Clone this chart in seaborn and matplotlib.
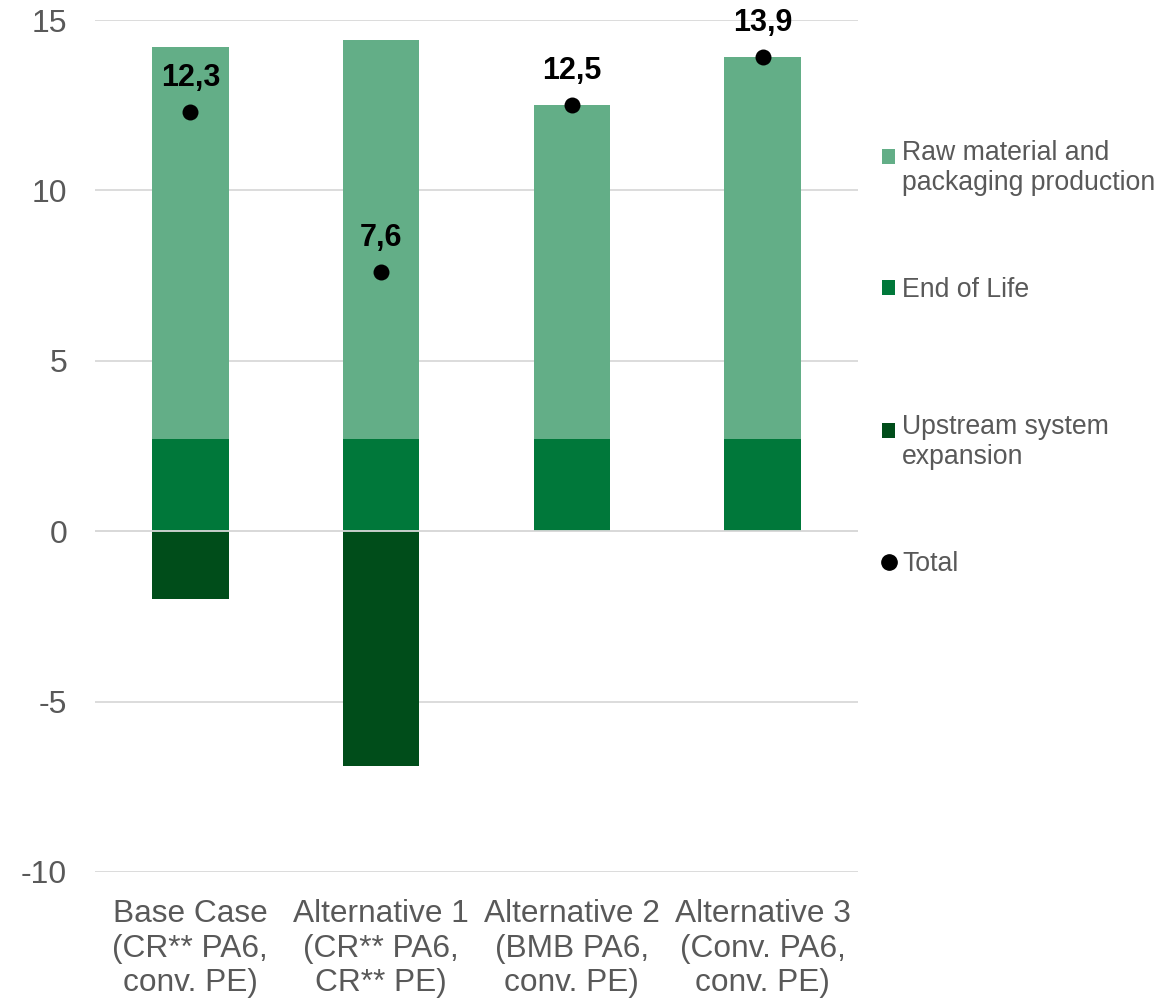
import numpy as np
import pandas as pd
import matplotlib
matplotlib.use("Agg")
import matplotlib.pyplot as plt
from matplotlib.patches import Patch, Rectangle
from matplotlib.lines import Line2D
from matplotlib.legend_handler import HandlerPatch
import seaborn as sns

# ── Data ──────────────────────────────────────────────────────────────────────
categories = [
    "Base Case\n(CR** PA6,\nconv. PE)",
    "Alternative 1\n(CR** PA6,\nCR** PE)",
    "Alternative 2\n(BMB PA6,\nconv. PE)",
    "Alternative 3\n(Conv. PA6,\nconv. PE)",
]
raw_material = [11.5, 11.7, 9.8, 11.2]
end_of_life = [2.7, 2.7, 2.7, 2.7]
upstream = [-2.0, -6.9, 0.0, 0.0]
totals = [12.3, 7.6, 12.5, 13.9]
total_labels = ["12,3", "7,6", "12,5", "13,9"]

series_names = ["Raw material and\npackaging production", "End of Life",
                "Upstream system\nexpansion", "Total"]

# ── Style ─────────────────────────────────────────────────────────────────────
LIGHT = "#63AE87"
MID = "#00783A"
DARK = "#004D1A"
TEXT = "#595959"
GRID = "#D9D9D9"

sns.set_theme(style="white")
plt.rcParams["font.family"] = ["Liberation Sans", "DejaVu Sans"]

df = pd.DataFrame({
    "case": categories,
    "raw": raw_material,
    "eol": end_of_life,
    "up": upstream,
    "total": totals,
})
df["stack_top"] = df["eol"] + df["raw"]

fig = plt.figure(figsize=(11.7, 9.99), dpi=100)
ax = fig.add_axes([95 / 1170, 1 - 872 / 999, (858 - 95) / 1170, (872 - 20) / 999])

ax.set_axisbelow(True)
ax.yaxis.grid(True, color=GRID, linewidth=1.3)
ax.xaxis.grid(False)

# stacked bars: full stack first, then lower segments on top
bw = 0.40
sns.barplot(data=df, x="case", y="stack_top", color=LIGHT, width=bw,
            saturation=1, ax=ax, linewidth=0)
sns.barplot(data=df, x="case", y="eol", color=MID, width=bw,
            saturation=1, ax=ax, linewidth=0)
sns.barplot(data=df, x="case", y="up", color=DARK, width=bw,
            saturation=1, ax=ax, linewidth=0)
ax.axhline(0, color=GRID, linewidth=1.3, zorder=3)

sns.stripplot(data=df, x="case", y="total", color="black", jitter=False,
              size=11.5, linewidth=0, ax=ax, zorder=5)

for i, (val, lab) in enumerate(zip(totals, total_labels)):
    ax.annotate(lab, (i, val), xytext=(0, 19), textcoords="offset points",
                ha="center", va="baseline", fontsize=22, fontweight="bold",
                color="black", zorder=6)

ax.set_xlim(-0.5, 3.5)
ax.set_ylim(-10, 15)
ax.set_yticks(np.arange(-10, 16, 5))
ax.set_yticklabels([str(v) for v in range(-10, 16, 5)], fontsize=23, color=TEXT)
ax.tick_params(axis="y", length=0, pad=20)
ax.tick_params(axis="x", length=0, pad=19.5)
ax.set_xticks(range(len(categories)))
ax.set_xticklabels(categories, fontsize=22.8, color=TEXT, linespacing=1.2)
ax.set_xlabel("")
ax.set_ylabel("")
for s in ax.spines.values():
    s.set_visible(False)


# ── Legend: one entry per box, evenly spaced like the original ───────────────
def _square(shift):
    def f(legend, orig_handle, xdescent, ydescent, width, height, fontsize):
        return Rectangle((-xdescent, -ydescent + shift), width, height)
    return HandlerPatch(patch_func=f)


handles = [
    Patch(facecolor=LIGHT, edgecolor="none"),
    Patch(facecolor=MID, edgecolor="none"),
    Patch(facecolor=DARK, edgecolor="none"),
    Line2D([], [], marker="o", linestyle="none", color="black", markersize=11),
]
legend_tops = [140, 277, 414, 551]
for h, name, top in zip(handles, series_names, legend_tops):
    hmap = {}
    if isinstance(h, Patch):
        hmap = {Patch: _square(8.6 if "\n" in name else 0)}
    leg = fig.legend([h], [name], loc="upper left",
                     bbox_to_anchor=(882 / 1170, 1 - top / 999),
                     frameon=False, fontsize=19.2, labelcolor=TEXT,
                     handlelength=0.5, handleheight=0.5, handletextpad=0.25,
                     borderpad=0, borderaxespad=0, handler_map=hmap)

fig.savefig("out.png", dpi=100)
